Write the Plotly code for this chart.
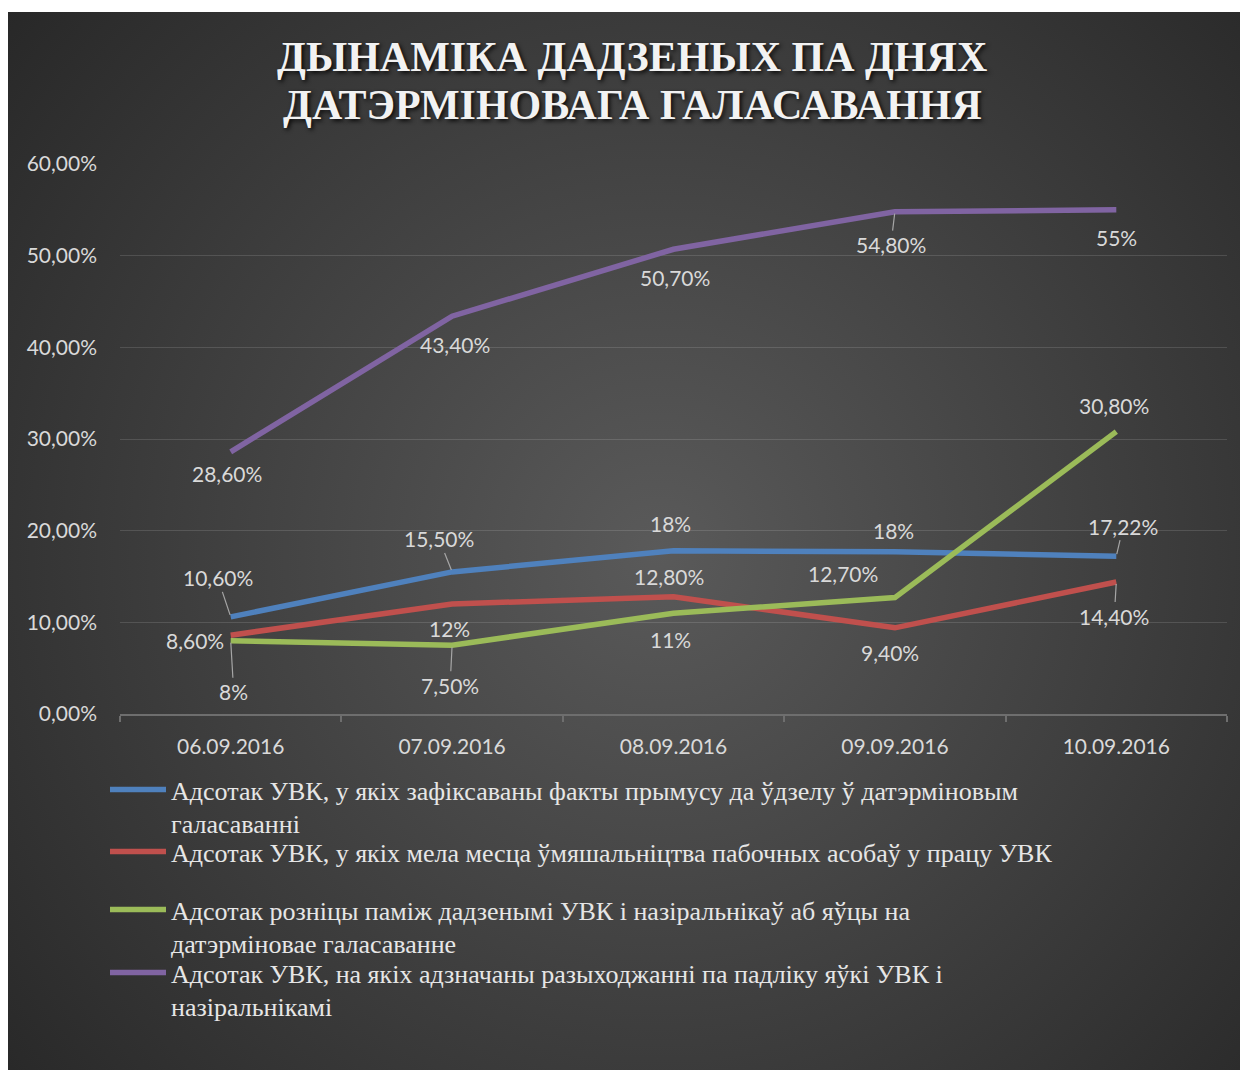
import base64
import plotly.graph_objects as go

# ---------------- data ----------------
dates = ["06.09.2016", "07.09.2016", "08.09.2016", "09.09.2016", "10.09.2016"]

coercion = [0.106, 0.155, 0.178, 0.177, 0.1722]
interference = [0.086, 0.120, 0.128, 0.094, 0.144]
difference = [0.080, 0.075, 0.110, 0.127, 0.308]
discrepancy = [0.286, 0.434, 0.507, 0.548, 0.550]

coercion_labels = ["10,60%", "15,50%", "18%", "18%", "17,22%"]
interference_labels = ["8,60%", "12%", "12,80%", "9,40%", "14,40%"]
difference_labels = ["8%", "7,50%", "11%", "12,70%", "30,80%"]
discrepancy_labels = ["28,60%", "43,40%", "50,70%", "54,80%", "55%"]

series_names = [
    "Адсотак УВК, у якіх зафіксаваны факты прымусу да ўдзелу ў датэрміновым<br>галасаванні",
    "Адсотак УВК, у якіх мела месца ўмяшальніцтва пабочных асобаў у працу УВК",
    "Адсотак розніцы паміж дадзенымі УВК і назіральнікаў аб яўцы на<br>датэрміновае галасаванне",
    "Адсотак УВК, на якіх адзначаны разыходжанні па падліку яўкі УВК і<br>назіральнікамі",
]
title_lines = ["ДЫНАМІКА ДАДЗЕНЫХ ПА ДНЯХ", "ДАТЭРМІНОВАГА ГАЛАСАВАННЯ"]

# ---------------- styles ----------------
colors = ["#4F81BD", "#C0504D", "#9BBB59", "#8064A2"]
# label offsets (dx, dy-down in px) and whether a leader line is drawn
label_style = [
    [(-13, -39, True), (-13, -33, True), (-3, -27, False), (-1, -21, False), (7, -30, True)],
    [(-36, 5, False), (-3, 24, False), (-5, -20, False), (-5, 25, False), (-2, 34, True)],
    [(3, 51, True), (-2, 40, True), (-3, 26, False), (-52, -24, False), (-2, -26, False)],
    [(-4, 22, False), (3, 28, False), (1, 28, False), (-4, 33, True), (0, 28, False)],
]

W, H = 1240, 1062
ML, MR, MT, MB = 112, 21, 156, 356
PW, PH = W - ML - MR, H - MT - MB
PAGE = 8  # body margin of the html page


def px_x(page_x):
    return (page_x - PAGE - ML) / PW


def px_y(page_y):
    return (H - MB - (page_y - PAGE)) / PH


LABEL_FONT = dict(family="Lato, 'Open Sans', sans-serif", size=21, color="#D9D9D9")

fig = go.Figure()

all_values = [coercion, interference, difference, discrepancy]
all_labels = [coercion_labels, interference_labels, difference_labels, discrepancy_labels]
legend_ids = ["legend", "legend2", "legend3", "legend4"]

for k, (vals, name, col) in enumerate(zip(all_values, series_names, colors)):
    fig.add_trace(go.Scatter(
        x=dates, y=vals, mode="lines", name=name,
        line=dict(color=col, width=5.5),
        legend=legend_ids[k], hoverinfo="skip",
    ))

annotations = []
for vals, labs, styles in zip(all_values, all_labels, label_style):
    for d, v, t, (dx, dy, leader) in zip(dates, vals, labs, styles):
        if leader:
            annotations.append(dict(
                x=d, y=v, xref="x", yref="y", text=t, font=LABEL_FONT,
                showarrow=True, ax=dx, ay=dy, axref="pixel", ayref="pixel",
                arrowhead=0, arrowwidth=1.2, arrowcolor="#A6A6A6", standoff=2,
            ))
        else:
            annotations.append(dict(
                x=d, y=v, xref="x", yref="y", text=t, font=LABEL_FONT,
                showarrow=False, xshift=dx, yshift=-dy,
            ))

title_font = dict(family="'Liberation Serif', 'Times New Roman', serif", size=42,
                  color="#F2F2F2", weight="bold",
                  shadow="2px 2px 4px rgba(0,0,0,0.85)")
for line, py in zip(title_lines, [57, 105]):
    annotations.append(dict(
        x=px_x(632), y=px_y(py), xref="paper", yref="paper",
        xanchor="center", yanchor="middle", text=line, showarrow=False,
        font=title_font,
    ))

# background: radial gradient as inline svg image
bg_w, bg_h = 1240, 1058
svg = (
    f'<svg xmlns="http://www.w3.org/2000/svg" width="{bg_w}" height="{bg_h}" '
    f'viewBox="0 0 {bg_w} {bg_h}" preserveAspectRatio="none">'
    '<defs><radialGradient id="g" cx="650" cy="540" r="880" gradientUnits="userSpaceOnUse">'
    '<stop offset="0" stop-color="#5A5A5A"/><stop offset="1" stop-color="#262626"/>'
    '</radialGradient></defs>'
    f'<rect width="{bg_w}" height="{bg_h}" fill="url(#g)"/></svg>'
)
src = "data:image/svg+xml;base64," + base64.b64encode(svg.encode()).decode()

legend_common = dict(
    font=dict(family="'Liberation Serif', 'Times New Roman', serif", size=26, color="#E6E6E6"),
    bgcolor="rgba(0,0,0,0)", valign="top", itemwidth=56,
    xanchor="left", yanchor="top", itemclick=False, itemdoubleclick=False,
)
legend_first_line = [790, 852, 910, 973]
legend_layout = {}
for lid, ty in zip(legend_ids, legend_first_line):
    legend_layout[lid] = dict(legend_common, x=px_x(105), y=px_y(ty - 24))

fig.update_layout(
    width=W, height=H,
    margin=dict(l=ML, r=MR, t=MT, b=MB, pad=0),
    paper_bgcolor="white", plot_bgcolor="rgba(0,0,0,0)",
    separators=", ",
    showlegend=True,
    images=[dict(source=src, xref="paper", yref="paper",
                 x=-ML / PW, y=(H - MB - 4) / PH,
                 sizex=W / PW, sizey=(H - 4) / PH,
                 xanchor="left", yanchor="top", sizing="stretch", layer="below")],
    annotations=annotations,
    xaxis=dict(
        type="category", categoryorder="array", categoryarray=dates,
        range=[-0.5, 4.5], showgrid=False, zeroline=False,
        showline=True, linecolor="#6E6E6E", linewidth=1.5,
        ticks="outside", tickson="boundaries", ticklen=6, tickcolor="#6E6E6E", tickwidth=1.5,
        tickfont=LABEL_FONT, ticklabelstandoff=13,
    ),
    yaxis=dict(
        range=[0, 0.6], dtick=0.1, tickformat=".2%",
        showgrid=True, gridcolor="rgba(255,255,255,0.13)", gridwidth=1.2,
        zeroline=False, showline=False, ticks="",
        tickfont=LABEL_FONT, ticklabelstandoff=22,
    ),
    **legend_layout,
)

fig.write_html("out.html")
